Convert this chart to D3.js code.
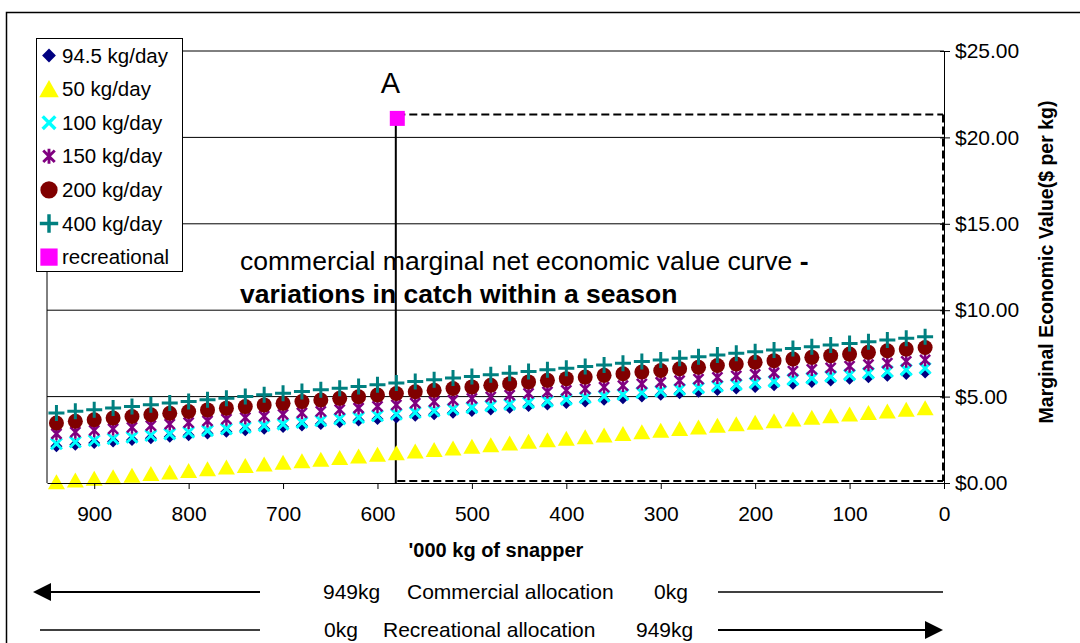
<!DOCTYPE html>
<html><head><meta charset="utf-8">
<script src="https://cdn.jsdelivr.net/npm/d3@7"></script>
<style>
body{margin:0;background:#fff;}
svg{display:block;font-family:Arial,"Liberation Sans",sans-serif;}
</style>
</head><body>
<svg id="c" width="1080" height="643"></svg>
<script>
// ---- data ----
const catchKg = [940,920,900,880,860,840,820,800,780,760,740,720,700,680,660,640,620,600,580,560,540,520,500,480,460,440,420,400,380,360,340,320,300,280,260,240,220,200,180,160,140,120,100,80,60,40,20];
const seriesNames = ["94.5 kg/day","50 kg/day","100 kg/day","150 kg/day","200 kg/day","400 kg/day","recreational"];
const v94_5 = [2.12,2.21,2.31,2.40,2.49,2.59,2.68,2.77,2.86,2.96,3.05,3.14,3.24,3.33,3.42,3.52,3.61,3.70,3.79,3.89,3.98,4.07,4.17,4.26,4.35,4.45,4.54,4.63,4.72,4.82,4.91,5.00,5.10,5.19,5.28,5.38,5.47,5.56,5.65,5.75,5.84,5.93,6.03,6.12,6.21,6.31,6.40];
const v50 = [0.05,0.14,0.24,0.33,0.42,0.52,0.61,0.70,0.79,0.89,0.98,1.07,1.17,1.26,1.35,1.45,1.54,1.63,1.72,1.82,1.91,2.00,2.10,2.19,2.28,2.38,2.47,2.56,2.65,2.75,2.84,2.93,3.03,3.12,3.21,3.31,3.40,3.49,3.58,3.68,3.77,3.86,3.96,4.05,4.14,4.24,4.33];
const v100 = [2.27,2.37,2.46,2.56,2.65,2.75,2.84,2.94,3.03,3.13,3.22,3.32,3.41,3.51,3.60,3.70,3.79,3.89,3.98,4.08,4.17,4.27,4.36,4.46,4.55,4.65,4.74,4.84,4.93,5.03,5.12,5.22,5.31,5.41,5.50,5.60,5.69,5.79,5.88,5.98,6.07,6.17,6.26,6.36,6.45,6.55,6.64];
const v150 = [2.85,2.94,3.04,3.13,3.22,3.32,3.41,3.50,3.59,3.69,3.78,3.87,3.97,4.06,4.15,4.25,4.34,4.43,4.52,4.62,4.71,4.80,4.90,4.99,5.08,5.18,5.27,5.36,5.45,5.55,5.64,5.73,5.83,5.92,6.01,6.11,6.20,6.29,6.38,6.48,6.57,6.66,6.76,6.85,6.94,7.04,7.13];
const v200 = [3.47,3.57,3.66,3.76,3.85,3.95,4.04,4.14,4.23,4.33,4.42,4.52,4.61,4.71,4.80,4.90,4.99,5.09,5.18,5.28,5.37,5.47,5.56,5.66,5.75,5.85,5.94,6.04,6.13,6.23,6.32,6.42,6.51,6.61,6.70,6.80,6.89,6.99,7.08,7.18,7.27,7.37,7.46,7.56,7.65,7.75,7.84];
const v400 = [4.05,4.15,4.24,4.34,4.43,4.53,4.63,4.72,4.82,4.91,5.01,5.11,5.20,5.30,5.39,5.49,5.59,5.68,5.78,5.87,5.97,6.07,6.16,6.26,6.35,6.45,6.55,6.64,6.74,6.83,6.93,7.03,7.12,7.22,7.31,7.41,7.51,7.60,7.70,7.79,7.89,7.99,8.08,8.18,8.27,8.37,8.47];
const recreationalX = [579];
const recreationalY = [21.1];
const xTicks = [900,800,700,600,500,400,300,200,100,0];
const yTicks = [0,5,10,15,20,25];

// ---- setup ----
const svg = d3.select("#c");
const x = d3.scaleLinear().domain([950,0]).range([47,944]);
const y = d3.scaleLinear().domain([0,25]).range([483,51]);

const markerTypes = ["diamond","triangle","x","star","circle","plus","square"];
const seriesValues = [v94_5, v50, v100, v150, v200, v400];

function marker(sel, type){
  switch(type){
    case "diamond": sel.append("path").attr("d","M0,-6L6,0L0,6L-6,0Z").attr("fill","#000080"); break;
    case "triangle": sel.append("path").attr("d","M0,-8L8.5,7L-8.5,7Z").attr("fill","#FFFF00"); break;
    case "x": sel.append("path").attr("d","M-5.5,-5.5L5.5,5.5M-5.5,5.5L5.5,-5.5").attr("stroke","#00FFFF").attr("stroke-width",3).attr("fill","none"); break;
    case "star": sel.append("path").attr("d","M-5,-5L5,5M-5,5L5,-5M0,-6.5L0,6.5").attr("stroke","#800080").attr("stroke-width",2.5).attr("fill","none"); break;
    case "circle": sel.append("circle").attr("r",7.5).attr("fill","#800000"); break;
    case "plus": sel.append("path").attr("d","M-8,0L8,0M0,-8L0,8").attr("stroke","#008080").attr("stroke-width",3).attr("fill","none"); break;
    case "square": sel.append("rect").attr("x",-7.5).attr("y",-7.5).attr("width",15).attr("height",15).attr("fill","#FF00FF"); break;
  }
}

// outer frame
svg.append("rect").attr("x",6.5).attr("y",12.5).attr("width",1100).attr("height",700)
  .attr("fill","none").attr("stroke","#000").attr("stroke-width",1.5);

// gridlines
svg.append("g").selectAll("line").data(yTicks.filter(d=>d>0)).join("line")
  .attr("x1",x(950)).attr("x2",x(0)).attr("y1",d=>y(d)).attr("y2",d=>y(d))
  .attr("stroke","#000").attr("stroke-width",1);
// plot left border
svg.append("line").attr("x1",x(950)).attr("x2",x(950)).attr("y1",y(25)).attr("y2",y(0))
  .attr("stroke","#000").attr("stroke-width",1);

// annotation text
const ann = svg.append("text").attr("x",240).attr("y",270).attr("font-size",26.5).attr("fill","#000");
ann.append("tspan").text("commercial marginal net economic value curve ");
ann.append("tspan").attr("font-weight","bold").text("-");
svg.append("text").attr("x",240).attr("y",303).attr("font-size",26.5).attr("font-weight","bold").attr("fill","#000")
  .text("variations in catch within a season");

// dashed rectangle for recreational allocation
const rx = x(recreationalX[0]), ry = y(recreationalY[0]);
const dash = svg.append("g").attr("fill","none").attr("stroke","#000").attr("stroke-width",2).attr("stroke-dasharray","8,4");
dash.append("line").attr("x1",rx).attr("x2",x(0)-1).attr("y1",ry-4).attr("y2",ry-4);
dash.append("line").attr("x1",x(0)-1).attr("x2",x(0)-1).attr("y1",ry-4).attr("y2",y(0)-2);
dash.append("line").attr("x1",rx).attr("x2",x(0)-1).attr("y1",y(0)-2).attr("y2",y(0)-2);
svg.append("line").attr("x1",rx-1.5).attr("x2",rx-1.5).attr("y1",ry).attr("y2",y(0))
  .attr("stroke","#000").attr("stroke-width",2);

// series markers
seriesValues.forEach((vals,i)=>{
  const g = svg.append("g");
  vals.forEach((v,j)=>{
    const m = g.append("g").attr("transform",`translate(${x(catchKg[j])},${y(v)})`);
    marker(m, markerTypes[i]);
  });
});
// recreational point
recreationalX.forEach((rv,j)=>{
  const m = svg.append("g").attr("transform",`translate(${x(rv)},${y(recreationalY[j])})`);
  marker(m,"square");
});
svg.append("text").attr("x",x(recreationalX[0])-7).attr("y",93).attr("text-anchor","middle")
  .attr("font-size",29).attr("fill","#000").text("A");

// x axis
const xa = svg.append("g").attr("transform",`translate(0,${y(0)})`)
  .call(d3.axisBottom(x).tickValues(xTicks).tickSize(6).tickSizeOuter(0).tickPadding(17).tickFormat(d3.format("d")));
xa.selectAll("text").attr("font-size",21).attr("fill","#000").attr("font-family","Arial,'Liberation Sans',sans-serif");
xa.selectAll("line,path").attr("stroke","#000").attr("stroke-width",1);

// y axis on right
const ya = svg.append("g").attr("transform",`translate(${x(0)},0)`)
  .call(d3.axisRight(y).tickValues(yTicks).tickSize(6).tickSizeOuter(0).tickPadding(5).tickFormat(d=>"$"+d.toFixed(2)));
ya.selectAll("text").attr("font-size",21).attr("fill","#000").attr("font-family","Arial,'Liberation Sans',sans-serif");
ya.selectAll("line,path").attr("stroke","#000").attr("stroke-width",1);
ya.selectAll(".tick").append("line").attr("x1",-4).attr("x2",0).attr("stroke","#000");

// axis titles
svg.append("text").attr("x",496).attr("y",557).attr("text-anchor","middle").attr("font-size",20)
  .attr("font-weight","bold").attr("fill","#000").text("'000 kg of snapper");
svg.append("text").attr("transform","translate(1053,262) rotate(-90)").attr("text-anchor","middle")
  .attr("font-size",19.5).attr("font-weight","bold").attr("fill","#000").text("Marginal Economic Value($ per kg)");

// legend
const lg = svg.append("g");
lg.append("rect").attr("x",36.5).attr("y",38.5).attr("width",146).attr("height",233)
  .attr("fill","#fff").attr("stroke","#000").attr("stroke-width",1);
seriesNames.forEach((name,i)=>{
  const cy = 55.5 + i*33.6;
  const m = lg.append("g").attr("transform",`translate(49,${cy}) scale(1.15)`);
  marker(m, markerTypes[i]);
  lg.append("text").attr("x",62).attr("y",cy+7).attr("font-size",20.5).attr("fill","#000").text(name);
});

// allocation arrows
const bottom = svg.append("g").attr("fill","#000");
bottom.append("line").attr("x1",48).attr("x2",260).attr("y1",592).attr("y2",592).attr("stroke","#000").attr("stroke-width",2);
bottom.append("path").attr("d","M33,592L51,583L51,601Z");
bottom.append("line").attr("x1",718).attr("x2",943).attr("y1",592).attr("y2",592).attr("stroke","#000").attr("stroke-width",1.5);
bottom.append("text").attr("x",323).attr("y",599).attr("font-size",21).text("949kg");
bottom.append("text").attr("x",407).attr("y",599).attr("font-size",21).text("Commercial allocation");
bottom.append("text").attr("x",654).attr("y",599).attr("font-size",21).text("0kg");

bottom.append("line").attr("x1",40).attr("x2",260).attr("y1",630).attr("y2",630).attr("stroke","#000").attr("stroke-width",1.5);
bottom.append("line").attr("x1",718).attr("x2",928).attr("y1",630).attr("y2",630).attr("stroke","#000").attr("stroke-width",2);
bottom.append("path").attr("d","M943,630L925,621L925,639Z");
bottom.append("text").attr("x",324).attr("y",637).attr("font-size",21).text("0kg");
bottom.append("text").attr("x",383).attr("y",637).attr("font-size",21).text("Recreational allocation");
bottom.append("text").attr("x",636).attr("y",637).attr("font-size",21).text("949kg");
</script>
</body></html>
